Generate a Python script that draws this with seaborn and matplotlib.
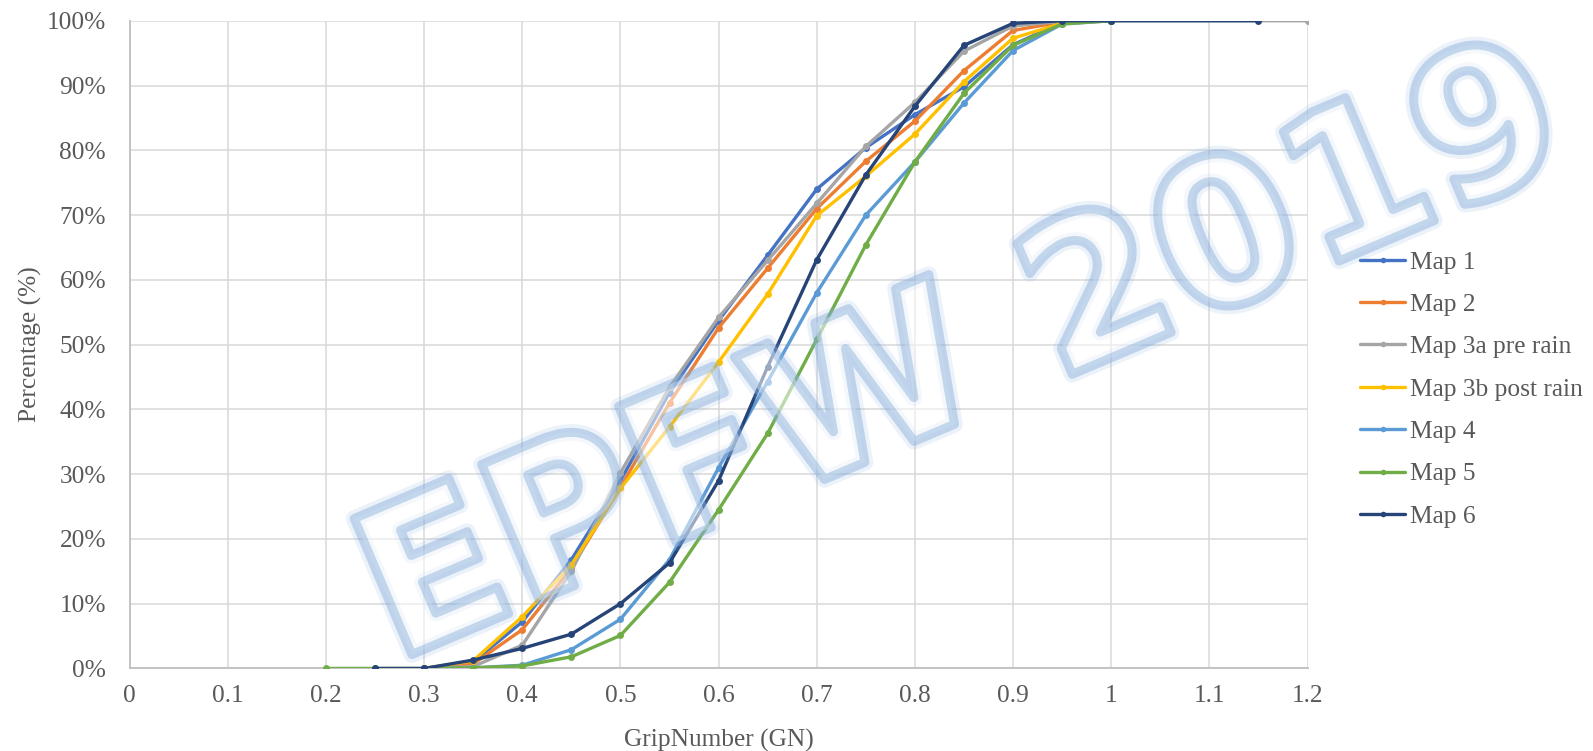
import matplotlib
matplotlib.use("Agg")
import matplotlib.pyplot as plt
import matplotlib.patheffects as pe
from matplotlib.lines import Line2D
import seaborn as sns
import pandas as pd

# ---------------- data ----------------
x_map1 = [0.3, 0.35, 0.4, 0.45, 0.5, 0.55, 0.6, 0.65, 0.7, 0.75, 0.8, 0.85, 0.9, 0.95, 1.0]
y_map1 = [0, 1.0, 7.2, 16.8, 29.0, 42.6, 53.7, 63.8, 74.0, 80.4, 85.5, 89.8, 96.3, 99.7, 100]

x_map2 = [0.3, 0.35, 0.4, 0.45, 0.5, 0.55, 0.6, 0.65, 0.7, 0.75, 0.8, 0.85, 0.9, 0.95, 1.0]
y_map2 = [0, 0.7, 6.0, 15.5, 28.0, 41.0, 52.6, 61.8, 71.0, 78.3, 84.5, 92.3, 98.5, 99.8, 100]

x_map3a = [0.3, 0.35, 0.4, 0.45, 0.5, 0.55, 0.6, 0.65, 0.7, 0.75, 0.8, 0.85, 0.9, 0.95, 1.0, 1.2]
y_map3a = [0, 0.3, 3.6, 15.0, 30.2, 43.4, 54.2, 63.0, 71.8, 80.6, 87.4, 95.3, 99.2, 99.9, 100, 100]

x_map3b = [0.3, 0.35, 0.4, 0.45, 0.5, 0.55, 0.6, 0.65, 0.7, 0.75, 0.8, 0.85, 0.9, 0.95, 1.0]
y_map3b = [0, 1.2, 8.0, 16.0, 27.8, 37.3, 47.3, 57.8, 69.9, 76.0, 82.5, 90.6, 97.3, 99.6, 100]

x_map4 = [0.3, 0.35, 0.4, 0.45, 0.5, 0.55, 0.6, 0.65, 0.7, 0.75, 0.8, 0.85, 0.9, 0.95, 1.0]
y_map4 = [0, 0.1, 0.5, 2.9, 7.6, 16.8, 31.0, 44.3, 58.0, 70.0, 78.2, 87.3, 95.4, 99.5, 100]

x_map5 = [0.2, 0.25, 0.3, 0.35, 0.4, 0.45, 0.5, 0.55, 0.6, 0.65, 0.7, 0.75, 0.8, 0.85, 0.9, 0.95, 1.0]
y_map5 = [0, 0, 0, 0.1, 0.4, 1.8, 5.1, 13.3, 24.5, 36.3, 50.8, 65.4, 78.2, 88.8, 96.2, 99.5, 100]

x_map6 = [0.25, 0.3, 0.35, 0.4, 0.45, 0.5, 0.55, 0.6, 0.65, 0.7, 0.75, 0.8, 0.85, 0.9, 0.95, 1.0, 1.15]
y_map6 = [0, 0, 1.3, 3.1, 5.3, 10.0, 16.3, 29.0, 46.6, 63.1, 76.2, 86.8, 96.2, 99.6, 100, 100, 100]

series_names = ["Map 1", "Map 2", "Map 3a pre rain", "Map 3b post rain", "Map 4", "Map 5", "Map 6"]
series_x = [x_map1, x_map2, x_map3a, x_map3b, x_map4, x_map5, x_map6]
series_y = [y_map1, y_map2, y_map3a, y_map3b, y_map4, y_map5, y_map6]
colors = ["#4472C4", "#ED7D31", "#A5A5A5", "#FFC000", "#5B9BD5", "#70AD47", "#264478"]

x_ticks = [0, 0.1, 0.2, 0.3, 0.4, 0.5, 0.6, 0.7, 0.8, 0.9, 1.0, 1.1, 1.2]
x_ticklabels = ["0", "0.1", "0.2", "0.3", "0.4", "0.5", "0.6", "0.7", "0.8", "0.9", "1", "1.1", "1.2"]
y_ticks = [0, 10, 20, 30, 40, 50, 60, 70, 80, 90, 100]
y_ticklabels = ["0%", "10%", "20%", "30%", "40%", "50%", "60%", "70%", "80%", "90%", "100%"]

x_label = "GripNumber (GN)"
y_label = "Percentage (%)"
watermark = "EPFW 2019"

# ---------------- frame ----------------
rows = []
for name, xs, ys in zip(series_names, series_x, series_y):
    for xv, yv in zip(xs, ys):
        rows.append({"GN": xv, "pct": yv, "Map": name})
df = pd.DataFrame(rows)

sns.set_theme(style="white")
plt.rcParams["font.family"] = ["Liberation Serif", "DejaVu Serif"]
text_col = "#595959"
fs = 18.3

fig = plt.figure(figsize=(15.93, 7.51), dpi=100)
ax = fig.add_axes([0.0814, 0.1099, 0.7394, 0.8625])

sns.lineplot(data=df, x="GN", y="pct", hue="Map", hue_order=series_names,
             palette=dict(zip(series_names, colors)), estimator=None, sort=False,
             marker="o", markersize=5, markeredgewidth=0, linewidth=2.4,
             legend=False, ax=ax, zorder=3)

ax.set_xlim(0, 1.2)
ax.set_ylim(0, 100)
ax.set_xticks(x_ticks)
ax.set_xticklabels(x_ticklabels)
ax.set_yticks(y_ticks)
ax.set_yticklabels(y_ticklabels)
ax.tick_params(axis="x", length=0, pad=12, labelsize=fs, colors=text_col)
ax.tick_params(axis="y", length=0, pad=17, labelsize=fs, colors=text_col)
for lab in ax.get_yticklabels() + ax.get_xticklabels():
    lab.set_color(text_col)
ax.grid(True, color="#D9D9D9", linewidth=1.1)
ax.set_axisbelow(True)
for s in ["top", "right"]:
    ax.spines[s].set_visible(False)
for s in ["left", "bottom"]:
    ax.spines[s].set_color("#BFBFBF")
    ax.spines[s].set_linewidth(1.3)
    ax.spines[s].set_zorder(2)

ax.set_xlabel(x_label, fontsize=fs, color=text_col)
ax.set_ylabel(y_label, fontsize=fs, color=text_col)
ax.xaxis.label.set_va("center")
ax.yaxis.label.set_va("center")
ax.xaxis.set_label_coords(0.5, -0.111)
ax.yaxis.set_label_coords(-0.0845, 0.5)

handles = [Line2D([0], [0], color=c, linewidth=2.4, marker="o", markersize=4,
                  markeredgewidth=0) for c in colors]
leg = ax.legend(handles, series_names, loc="upper left",
                bbox_to_anchor=(0.8535, 0.666), bbox_transform=fig.transFigure,
                frameon=False, fontsize=fs, handlelength=1.8, handletextpad=0.2,
                labelspacing=0.77, borderpad=0, borderaxespad=0)
for t in leg.get_texts():
    t.set_color(text_col)

# watermark (hollow outlined text)
fig.text(0.605, 0.522, watermark, fontsize=146, rotation=23, ha="center", va="center",
         family="DejaVu Sans", fontweight="bold", color=(1, 1, 1, 0), zorder=10,
         path_effects=[pe.Stroke(linewidth=12, foreground="#8DB3DD", alpha=0.16),
                       pe.Stroke(linewidth=6.5, foreground="#86AEDB", alpha=0.45)])

fig.savefig("out.png", dpi=100)
